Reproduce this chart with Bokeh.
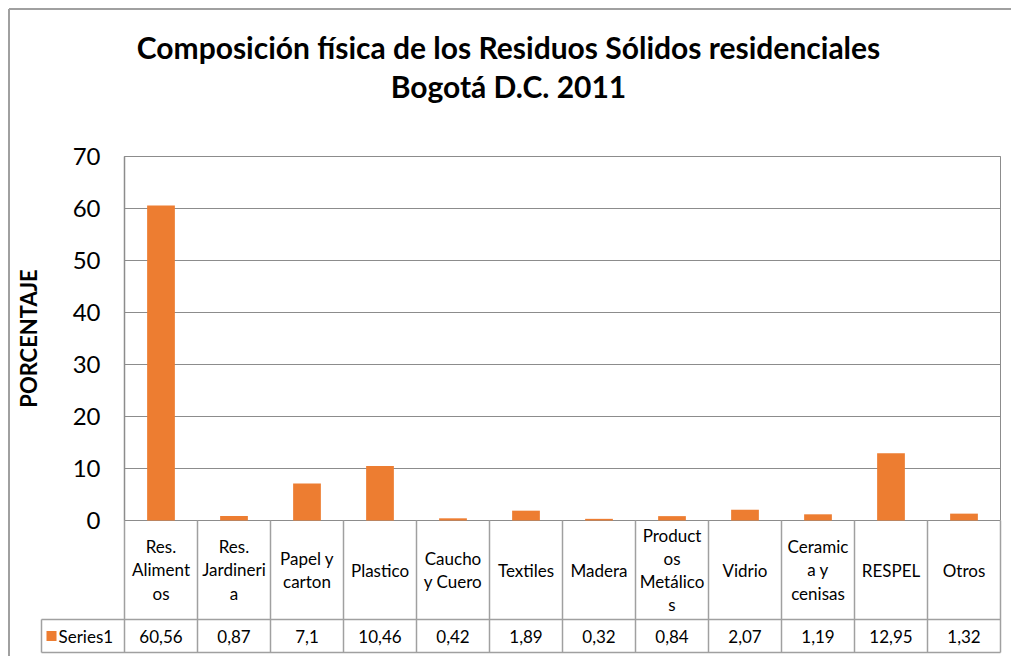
from bokeh.plotting import figure
from bokeh.models import Range1d, FixedTicker, LinearAxis, ColumnDataSource
from bokeh.embed import file_html
from bokeh.resources import INLINE
from bokeh.core.properties import value

# ---------------- data ----------------
categories = ["Res. Alimentos", "Res. Jardineria", "Papel y carton", "Plastico",
              "Caucho y Cuero", "Textiles", "Madera", "Productos Metálicos",
              "Vidrio", "Ceramica y cenisas", "RESPEL", "Otros"]
category_labels = ["Res.\nAliment\nos", "Res.\nJardineri\na", "Papel y\ncarton", "Plastico",
                   "Caucho\ny Cuero", "Textiles", "Madera", "Product\nos\nMetálico\ns",
                   "Vidrio", "Ceramic\na y\ncenisas", "RESPEL", "Otros"]
values = [60.56, 0.87, 7.1, 10.46, 0.42, 1.89, 0.32, 0.84, 2.07, 1.19, 12.95, 1.32]
value_labels = ["60,56", "0,87", "7,1", "10,46", "0,42", "1,89", "0,32", "0,84",
                "2,07", "1,19", "12,95", "1,32"]
series_name = "Series1"
y_ticks = [0, 10, 20, 30, 40, 50, 60, 70]
y_max = 70
title_lines = ["Composición física de los Residuos Sólidos residenciales", "Bogotá D.C. 2011"]
y_label = "PORCENTAJE"

# ---------------- layout (canvas px -> data coords) ----------------
W, H = 1011, 656
FRAME_L, FRAME_R, FRAME_T, FRAME_B = 124, 1000, 156, 520
n = len(categories)
COL_W = (FRAME_R - FRAME_L) / n
PX_PER_UNIT = (FRAME_B - FRAME_T) / y_max


def dx(px):
    return (px - FRAME_L) / COL_W


def dy(py):
    return (FRAME_B - py) / PX_PER_UNIT


ORANGE = "#ED7D31"
GRID = "#8C8C8C"
TABLE = "#A0A0A0"
FONT = "Lato"

p = figure(width=W, height=H,
           x_range=Range1d(dx(0), dx(W)), y_range=Range1d(dy(H), dy(0)),
           output_backend="svg", toolbar_location=None,
           x_axis_location=None, y_axis_location=None)
p.min_border = 0
p.min_border_left = 0
p.min_border_right = 0
p.min_border_top = 0
p.min_border_bottom = 0
p.outline_line_color = None
p.background_fill_color = "white"
p.border_fill_color = "white"
p.grid.visible = False

# y axis, placed at the left edge of the plot area
yaxis = LinearAxis(ticker=FixedTicker(ticks=y_ticks), fixed_location=0, bounds=(0, y_max))
yaxis.axis_line_color = GRID
yaxis.axis_line_width = 1.5
yaxis.major_tick_line_color = None
yaxis.minor_tick_line_color = None
yaxis.major_tick_out = 0
yaxis.major_tick_in = 0
yaxis.major_label_text_font = FONT
yaxis.major_label_text_font_size = "24px"
yaxis.major_label_text_color = "black"
yaxis.major_label_standoff = 24
yaxis.axis_label = y_label
yaxis.axis_label_text_font = FONT
yaxis.axis_label_text_font_style = "bold"
yaxis.axis_label_text_font_size = "22px"
yaxis.axis_label_text_color = "black"
yaxis.axis_label_standoff = 28
p.add_layout(yaxis, "left")

# gridlines and plot-area border
grid_src = ColumnDataSource(dict(y=[t for t in y_ticks if t > 0]))
p.segment(x0=0, x1=n, y0="y", y1="y", source=grid_src, line_color=GRID, line_width=1)
p.quad(left=0, right=n, bottom=0, top=y_max, fill_color=None, line_color=GRID, line_width=1)

# bars
xc = [i + 0.5 for i in range(n)]
src = ColumnDataSource(dict(x=xc, cat=categories, val=values, lab=category_labels,
                            vlab=value_labels))
p.vbar(x="x", top="val", width=0.38, bottom=0, source=src, fill_color=ORANGE,
       line_color=None)

# title
tsrc = ColumnDataSource(dict(x=[dx(508)] * len(title_lines),
                             y=[dy(46 + 39 * i) for i in range(len(title_lines))],
                             t=title_lines))
p.text(x="x", y="y", text="t", source=tsrc, text_align="center", text_baseline="middle",
       text_font=value(FONT), text_font_style="bold", text_font_size="30px",
       text_color="black")

# data table lines
ROW1_B, ROW2_B, SER_L = 619, 652, 41
x0, x1, y0, y1 = [], [], [], []
for i in range(n + 1):
    x0.append(i); x1.append(i); y0.append(0); y1.append(dy(ROW2_B))
for yy in (ROW1_B, ROW2_B):
    x0.append(dx(SER_L)); x1.append(n); y0.append(dy(yy)); y1.append(dy(yy))
x0.append(dx(SER_L)); x1.append(dx(SER_L)); y0.append(dy(ROW1_B)); y1.append(dy(ROW2_B))
lsrc = ColumnDataSource(dict(x0=x0, x1=x1, y0=y0, y1=y1))
p.segment(x0="x0", y0="y0", x1="x1", y1="y1", source=lsrc, line_color=TABLE,
          line_width=1.5)

# outer chart border (top and left)
bsrc = ColumnDataSource(dict(x0=[dx(8.5), dx(8.5)], y0=[dy(8.5), dy(8.5)],
                             x1=[dx(8.5), dx(W + 10)], y1=[dy(H + 10), dy(8.5)]))
p.segment(x0="x0", y0="y0", x1="x1", y1="y1", source=bsrc, line_color="#A0A0A0",
          line_width=2)

# table texts
src.data["ycat"] = [dy((FRAME_B + ROW1_B) / 2)] * n
src.data["yval"] = [dy((ROW1_B + ROW2_B) / 2)] * n
p.text(x="x", y="ycat", text="lab", source=src, text_align="center",
       text_baseline="middle", text_font=value(FONT), text_font_size="17px",
       text_color="black", text_line_height=1.1)
p.text(x="x", y="yval", text="vlab", source=src, text_align="center",
       text_baseline="middle", text_font=value(FONT), text_font_size="17px",
       text_color="black")

# series key
yc = (ROW1_B + ROW2_B) / 2
p.rect(x=[dx(51)], y=[dy(yc)], width=10, height=10, width_units="screen",
       height_units="screen", fill_color=ORANGE, line_color=None)
p.text(x=[dx(58)], y=[dy(yc)], text=[series_name], text_align="left",
       text_baseline="middle", text_font=value(FONT), text_font_size="17px",
       text_color="black")

open("out.html", "w").write(file_html(p, INLINE))
